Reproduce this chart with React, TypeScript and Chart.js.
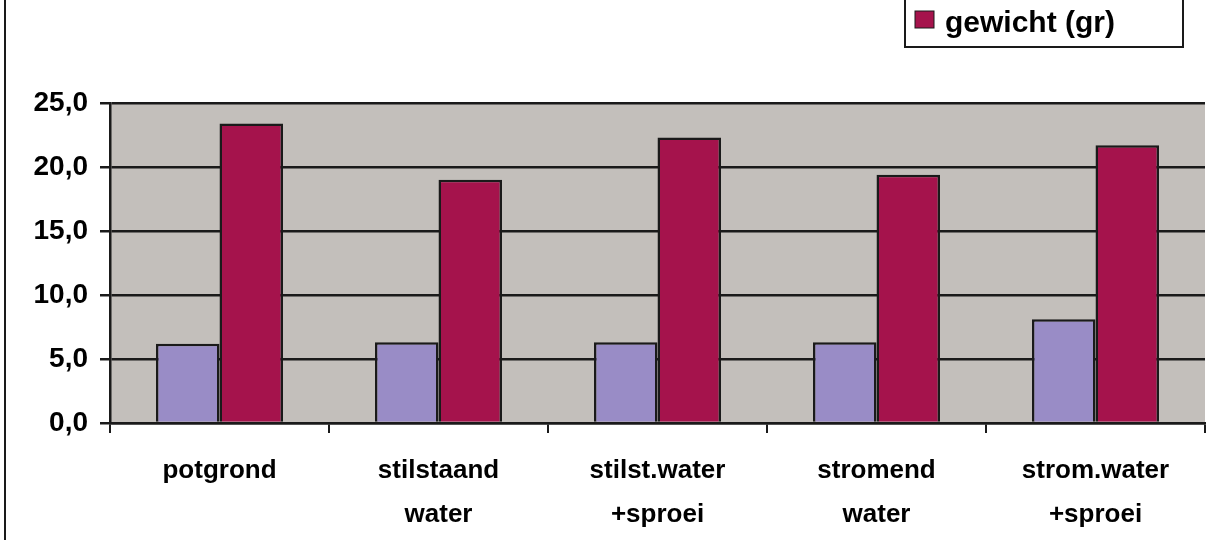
import React, { useEffect, useRef } from "react";
import { Chart, registerables } from "chart.js";

Chart.register(...registerables);

// ---- data ----
const categories: string[][] = [
  ["potgrond"],
  ["stilstaand", "water"],
  ["stilst.water", "+sproei"],
  ["stromend", "water"],
  ["strom.water", "+sproei"],
];
const seriesLabels = ["lengte (cm)", "gewicht (gr)"];
const lengteValues = [6.2, 6.3, 6.3, 6.3, 8.1];
const gewichtValues = [23.4, 19.0, 22.3, 19.4, 21.7];
const yMin = 0;
const yMax = 25;
const yStep = 5;

// ---- styles ----
const FONT = '"Liberation Sans", Arial, sans-serif';
const BLUE = "#998cc6";
const RED = "#a5134c";
const PLOT_BG = "#c3bfbb";
const LINE = "#1a1a1a";

const W = 1223;
const H = 540;

const decorPlugin = {
  id: "decor",
  beforeDraw(chart: any) {
    const { ctx, chartArea } = chart;
    ctx.save();
    ctx.fillStyle = "#ffffff";
    ctx.fillRect(0, 0, chart.width, chart.height);
    ctx.fillStyle = PLOT_BG;
    ctx.fillRect(chartArea.left, chartArea.top, chartArea.right - chartArea.left, chartArea.bottom - chartArea.top);
    ctx.restore();
  },
  afterDraw(chart: any) {
    const { ctx } = chart;
    ctx.save();
    // outer frame (left edge visible)
    ctx.strokeStyle = LINE;
    ctx.lineWidth = 2;
    ctx.beginPath();
    ctx.moveTo(5, 0);
    ctx.lineTo(5, chart.height);
    ctx.stroke();
    // legend box (top part, with the first entry, is cut off)
    ctx.fillStyle = "#ffffff";
    ctx.fillRect(905, -40, 278, 87);
    ctx.strokeRect(905, -40, 278, 87);
    const ds = chart.data.datasets;
    ctx.fillStyle = ds[1].backgroundColor;
    ctx.fillRect(915, 11, 19, 17);
    ctx.lineWidth = 1;
    ctx.strokeRect(915, 11, 19, 17);
    ctx.fillStyle = "#000000";
    ctx.font = `bold 30px ${FONT}`;
    ctx.textBaseline = "alphabetic";
    ctx.textAlign = "left";
    ctx.fillText(ds[1].label, 945, 32);
    ctx.restore();
  },
};

export default function App() {
  const ref = useRef<HTMLCanvasElement | null>(null);

  useEffect(() => {
    if (!ref.current) return;
    const chart = new Chart(ref.current, {
      type: "bar",
      data: {
        labels: categories,
        datasets: [
          {
            label: seriesLabels[0],
            data: lengteValues,
            backgroundColor: BLUE,
            borderColor: LINE,
            borderWidth: 2.5,
            borderSkipped: "bottom",
          },
          {
            label: seriesLabels[1],
            data: gewichtValues,
            backgroundColor: RED,
            borderColor: LINE,
            borderWidth: 2.5,
            borderSkipped: "bottom",
          },
        ],
      },
      options: {
        responsive: false,
        animation: false,
        layout: { padding: { left: 0, right: 18, top: 103, bottom: 0 } },
        datasets: { bar: { categoryPercentage: 0.58, barPercentage: 1.0 } },
        plugins: {
          legend: { display: false },
          tooltip: { enabled: false },
          title: { display: false },
        },
        scales: {
          x: {
            offset: true,
            grid: {
              offset: true,
              drawOnChartArea: false,
              drawTicks: true,
              tickLength: 10,
              color: LINE,
              lineWidth: 2,
            },
            border: { display: true, color: LINE, width: 2.5 },
            ticks: {
              color: "#000000",
              font: { family: FONT, size: 26, weight: "bold", lineHeight: 1.7 },
              padding: 16,
              maxRotation: 0,
              autoSkip: false,
            },
            afterFit(scale: any) {
              scale.height = 117;
            },
          },
          y: {
            min: yMin,
            max: yMax,
            grid: {
              color: LINE,
              lineWidth: 2.5,
              drawTicks: true,
              tickLength: 10,
            },
            border: { display: true, color: LINE, width: 2.5 },
            ticks: {
              stepSize: yStep,
              color: "#000000",
              font: { family: FONT, size: 28, weight: "bold" },
              padding: 12,
              callback: (v: any) => Number(v).toFixed(1).replace(".", ","),
            },
            afterFit(scale: any) {
              scale.width = 110;
            },
          },
        },
      },
      plugins: [decorPlugin],
    });
    return () => chart.destroy();
  }, []);

  return (
    <canvas
      ref={ref}
      width={W}
      height={H}
      style={{ position: "absolute", left: 0, top: 0, width: W, height: H }}
    />
  );
}
